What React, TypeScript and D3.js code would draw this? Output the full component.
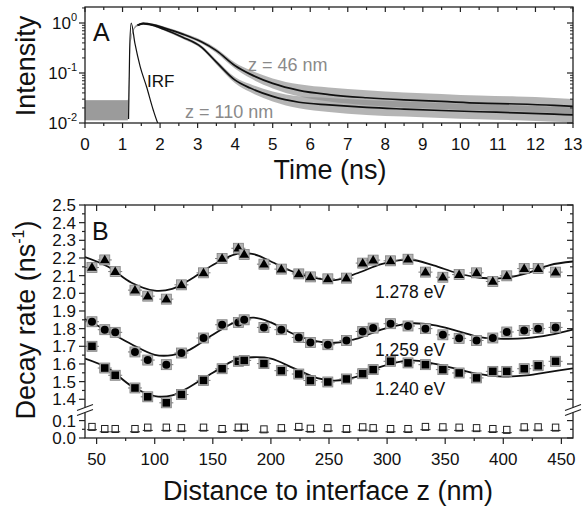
import * as d3 from "d3";
import React, { useEffect, useRef } from "react";

const W = 583;
const H = 507;
const FONT = "'Liberation Sans', Arial, Helvetica, sans-serif";

// ---- panel A: decay traces (log intensity vs time) ----
const timeNs = [0, 0.5, 1.0, 1.14, 1.17, 1.22, 1.3, 1.4, 1.55, 1.8, 2.1, 2.6, 3.1, 3.5, 4.0, 4.4, 5.0, 5.7, 6.5, 7.5, 8.5, 9.5, 10.5, 11.5, 12.5, 13];
const countsZ46 = [0.018, 0.018, 0.018, 0.018, 0.06, 0.45, 0.75, 0.9, 0.98, 0.93, 0.8, 0.6, 0.42, 0.28, 0.14, 0.095, 0.062, 0.045, 0.037, 0.032, 0.029, 0.027, 0.025, 0.024, 0.0225, 0.0215];
const countsZ110 = [0.018, 0.018, 0.018, 0.018, 0.06, 0.45, 0.75, 0.9, 0.97, 0.9, 0.75, 0.52, 0.33, 0.165, 0.072, 0.05, 0.034, 0.026, 0.023, 0.0205, 0.019, 0.0178, 0.0168, 0.016, 0.015, 0.0145];
// half width of the noisy gray trace, in decades
const noiseDecades = [0.2, 0.2, 0.2, 0.2, 0.06, 0.03, 0.02, 0.02, 0.02, 0.02, 0.025, 0.03, 0.035, 0.045, 0.06, 0.08, 0.1, 0.12, 0.14, 0.15, 0.15, 0.15, 0.15, 0.15, 0.15, 0.15];
const fitStart = 7; // fits drawn from t = 1.4 ns
const irfTime = [1.16, 1.19, 1.23, 1.33, 1.47, 1.64, 1.82, 1.95, 2.0];
const irfValue = [0.012, 0.3, 1.0, 0.39, 0.134, 0.053, 0.018, 0.0095, 0.008];
const xTicksA = [0, 1, 2, 3, 4, 5, 6, 7, 8, 9, 10, 11, 12, 13];
const yDecadesA = [0.01, 0.1, 1];
const yDecadeLabels = ["-2", "-1", "0"];

// ---- panel B: decay rate vs distance ----
const distanceNm = [46, 57, 66, 83, 94, 110, 123, 142, 158, 172, 177, 194, 209, 224, 234, 249, 265, 279, 288, 303, 318, 333, 348, 362, 377, 391, 403, 418, 430, 445];
const rate1278 = [2.146, 2.189, 2.123, 2.018, 1.984, 1.967, 2.048, 2.116, 2.197, 2.255, 2.22, 2.165, 2.137, 2.11, 2.093, 2.082, 2.086, 2.171, 2.188, 2.184, 2.193, 2.12, 2.091, 2.106, 2.116, 2.067, 2.099, 2.14, 2.14, 2.12];
const rate1259 = [1.839, 1.794, 1.779, 1.668, 1.622, 1.596, 1.662, 1.747, 1.822, 1.835, 1.85, 1.807, 1.794, 1.75, 1.722, 1.709, 1.733, 1.784, 1.803, 1.828, 1.815, 1.8, 1.765, 1.745, 1.733, 1.747, 1.781, 1.79, 1.8, 1.807];
const rate1240 = [1.7, 1.577, 1.536, 1.464, 1.414, 1.38, 1.427, 1.507, 1.573, 1.615, 1.62, 1.602, 1.562, 1.543, 1.506, 1.498, 1.515, 1.545, 1.568, 1.615, 1.606, 1.596, 1.568, 1.549, 1.521, 1.558, 1.558, 1.573, 1.59, 1.615];
const rateBackground = [0.062, 0.05, 0.05, 0.05, 0.058, 0.058, 0.055, 0.058, 0.05, 0.058, 0.058, 0.048, 0.055, 0.062, 0.052, 0.055, 0.05, 0.06, 0.055, 0.05, 0.05, 0.062, 0.06, 0.058, 0.055, 0.05, 0.045, 0.06, 0.06, 0.058];
const fitNm = [40, 60, 80, 100, 115, 130, 150, 170, 185, 200, 220, 240, 255, 275, 295, 320, 340, 360, 380, 400, 420, 440, 460];
const fit1278 = [2.205, 2.15, 2.06, 2.015, 2.025, 2.075, 2.16, 2.222, 2.222, 2.18, 2.12, 2.085, 2.075, 2.115, 2.165, 2.19, 2.158, 2.115, 2.088, 2.086, 2.113, 2.16, 2.18];
const fit1259 = [1.855, 1.785, 1.712, 1.652, 1.65, 1.68, 1.765, 1.84, 1.862, 1.835, 1.768, 1.728, 1.72, 1.745, 1.795, 1.83, 1.82, 1.788, 1.752, 1.742, 1.746, 1.765, 1.795];
const fit1240 = [1.63, 1.575, 1.475, 1.418, 1.422, 1.47, 1.55, 1.625, 1.638, 1.63, 1.575, 1.52, 1.506, 1.53, 1.585, 1.62, 1.602, 1.572, 1.542, 1.528, 1.535, 1.555, 1.575];
const xTicksB = [50, 100, 150, 200, 250, 300, 350, 400, 450];
const yTicksUpper = [1.4, 1.5, 1.6, 1.7, 1.8, 1.9, 2.0, 2.1, 2.2, 2.3, 2.4, 2.5];
const yTicksLower = [0.0, 0.1];

export default function App() {
  const svgRef = useRef(null);

  useEffect(() => {
    const svg = d3.select(svgRef.current);
    svg.selectAll("*").remove();
    svg.attr("font-family", FONT);

    const boxA = { left: 85, right: 573, top: 7, bottom: 123 };
    const boxB = { left: 85, right: 573, top: 205, bottom: 438 };

    // ================= PANEL A =================
    const xA = d3.scaleLinear().domain([0, 13]).range([boxA.left, boxA.right]);
    const yA = d3.scaleLog().domain([0.01, 2.09]).range([boxA.bottom, boxA.top]);

    svg.append("clipPath").attr("id", "clipA")
      .append("rect")
      .attr("x", boxA.left).attr("y", boxA.top)
      .attr("width", boxA.right - boxA.left).attr("height", boxA.bottom - boxA.top);

    const gA = svg.append("g").attr("clip-path", "url(#clipA)");

    const band = (vals) =>
      d3.area()
        .x((d, i) => xA(timeNs[i]))
        .y0((d, i) => yA(vals[i] / Math.pow(10, noiseDecades[i])))
        .y1((d, i) => yA(vals[i] * Math.pow(10, noiseDecades[i])))
        .curve(d3.curveMonotoneX)(timeNs);

    [countsZ46, countsZ110].forEach((vals) => {
      gA.append("path")
        .attr("d", band(vals))
        .attr("fill", "#8e8e8e")
        .attr("fill-opacity", 0.65);
    });

    const fitLine = d3.line()
      .x((d) => xA(d[0]))
      .y((d) => yA(d[1]))
      .curve(d3.curveMonotoneX);

    [countsZ46, countsZ110].forEach((vals) => {
      const pts = timeNs.map((t, i) => [t, vals[i]]).slice(fitStart);
      gA.append("path")
        .attr("d", fitLine(pts))
        .attr("fill", "none")
        .attr("stroke", "#111")
        .attr("stroke-width", 1.7);
    });

    gA.append("path")
      .attr("d", fitLine(irfTime.map((t, i) => [t, irfValue[i]])))
      .attr("fill", "none")
      .attr("stroke", "#111")
      .attr("stroke-width", 1.2);

    // frame A
    svg.append("rect")
      .attr("x", boxA.left).attr("y", boxA.top)
      .attr("width", boxA.right - boxA.left).attr("height", boxA.bottom - boxA.top)
      .attr("fill", "none").attr("stroke", "#222").attr("stroke-width", 1.3);

    // x ticks A (bottom outward, top inward)
    const halfTicksA = d3.range(0, 13.01, 0.5);
    halfTicksA.forEach((t) => {
      const major = Number.isInteger(t);
      const len = major ? 5 : 3;
      svg.append("line")
        .attr("x1", xA(t)).attr("x2", xA(t))
        .attr("y1", boxA.bottom).attr("y2", boxA.bottom + len)
        .attr("stroke", "#222").attr("stroke-width", 1.2);
      svg.append("line")
        .attr("x1", xA(t)).attr("x2", xA(t))
        .attr("y1", boxA.top).attr("y2", boxA.top + len)
        .attr("stroke", "#222").attr("stroke-width", 1.2);
    });
    svg.append("g").selectAll("text")
      .data(xTicksA)
      .join("text")
      .attr("x", (d) => xA(d))
      .attr("y", 150)
      .attr("text-anchor", "middle")
      .attr("font-size", 17)
      .attr("fill", "#111")
      .text((d) => d);

    // y ticks A
    yDecadesA.forEach((dec) => {
      svg.append("line")
        .attr("x1", boxA.left - 6).attr("x2", boxA.left)
        .attr("y1", yA(dec)).attr("y2", yA(dec))
        .attr("stroke", "#222").attr("stroke-width", 1.2);
      svg.append("line")
        .attr("x1", boxA.right - 6).attr("x2", boxA.right)
        .attr("y1", yA(dec)).attr("y2", yA(dec))
        .attr("stroke", "#222").attr("stroke-width", 1.2);
      for (let m = 2; m <= 9; m++) {
        const v = dec * m;
        if (v > 2.09) continue;
        svg.append("line")
          .attr("x1", boxA.left - 3).attr("x2", boxA.left)
          .attr("y1", yA(v)).attr("y2", yA(v))
          .attr("stroke", "#222").attr("stroke-width", 1);
        svg.append("line")
          .attr("x1", boxA.right - 3).attr("x2", boxA.right)
          .attr("y1", yA(v)).attr("y2", yA(v))
          .attr("stroke", "#222").attr("stroke-width", 1);
      }
    });
    yDecadesA.forEach((dec, i) => {
      const t = svg.append("text")
        .attr("x", 77)
        .attr("y", yA(dec) + 6)
        .attr("text-anchor", "end")
        .attr("font-size", 17)
        .attr("fill", "#111");
      t.append("tspan").text("10");
      t.append("tspan").attr("dy", -8).attr("font-size", 11).text(yDecadeLabels[i]);
    });

    // titles A
    svg.append("text")
      .attr("x", 330).attr("y", 179)
      .attr("text-anchor", "middle")
      .attr("font-size", 27)
      .attr("fill", "#111")
      .text("Time (ns)");
    svg.append("text")
      .attr("transform", "translate(35,66) rotate(-90)")
      .attr("text-anchor", "middle")
      .attr("font-size", 27)
      .attr("fill", "#111")
      .text("Intensity");
    svg.append("text")
      .attr("x", 93).attr("y", 41)
      .attr("font-size", 25)
      .attr("fill", "#111")
      .text("A");
    svg.append("text")
      .attr("x", 147).attr("y", 87)
      .attr("font-size", 17)
      .attr("fill", "#111")
      .text("IRF");
    svg.append("text")
      .attr("x", 248).attr("y", 71)
      .attr("font-size", 18)
      .attr("fill", "#8a8a8a")
      .text("z = 46 nm");
    svg.append("text")
      .attr("x", 185).attr("y", 118)
      .attr("font-size", 18)
      .attr("fill", "#8a8a8a")
      .text("z = 110 nm");

    // ================= PANEL B =================
    const xB = d3.scaleLinear().domain([40, 460]).range([boxB.left, boxB.right]);
    const breakY = 410;
    const yUp = d3.scaleLinear().domain([2.5, 1.345]).range([boxB.top, breakY - 1]);
    const yLo = d3.scaleLinear().domain([0, 0.155]).range([boxB.bottom, breakY + 1]);

    svg.append("clipPath").attr("id", "clipB")
      .append("rect")
      .attr("x", boxB.left).attr("y", boxB.top)
      .attr("width", boxB.right - boxB.left).attr("height", breakY - boxB.top);

    const gB = svg.append("g");
    const lineB = d3.line()
      .x((d, i) => xB(fitNm[i]))
      .y((d) => yUp(d))
      .curve(d3.curveCatmullRom.alpha(0.5));
    [fit1278, fit1259, fit1240].forEach((fit) => {
      gB.append("path")
        .attr("clip-path", "url(#clipB)")
        .attr("d", lineB(fit))
        .attr("fill", "none")
        .attr("stroke", "#111")
        .attr("stroke-width", 1.8);
    });

    // gray error box behind each filled marker
    const drawBack = (g, x, y) => {
      g.append("line")
        .attr("x1", x - 7).attr("x2", x + 7).attr("y1", y).attr("y2", y)
        .attr("stroke", "#777").attr("stroke-width", 1);
      g.append("rect")
        .attr("x", x - 5).attr("y", y - 5)
        .attr("width", 10).attr("height", 10)
        .attr("fill", "#b3b3b3").attr("stroke", "#808080").attr("stroke-width", 0.8);
    };

    const triangle = d3.symbol().type(d3.symbolTriangle).size(42);
    distanceNm.forEach((nm, i) => {
      const x = xB(nm);
      // 1.278 eV triangles
      let y = yUp(rate1278[i]);
      drawBack(gB, x, y);
      gB.append("path").attr("d", triangle()).attr("transform", `translate(${x},${y + 0.5})`).attr("fill", "#000");
      // 1.259 eV circles
      y = yUp(rate1259[i]);
      drawBack(gB, x, y);
      gB.append("circle").attr("cx", x).attr("cy", y).attr("r", 4).attr("fill", "#000");
      // 1.240 eV squares
      y = yUp(rate1240[i]);
      drawBack(gB, x, y);
      gB.append("rect").attr("x", x - 3.8).attr("y", y - 3.8).attr("width", 7.6).attr("height", 7.6).attr("fill", "#000");
      // background rate, open squares
      y = yLo(rateBackground[i]);
      gB.append("line")
        .attr("x1", x - 5).attr("x2", x + 5).attr("y1", y + 2.5).attr("y2", y + 2.5)
        .attr("stroke", "#222").attr("stroke-width", 1);
      gB.append("rect")
        .attr("x", x - 3.2).attr("y", y - 3.8)
        .attr("width", 6.4).attr("height", 7)
        .attr("fill", "none").attr("stroke", "#222").attr("stroke-width", 1);
    });

    // frame B
    svg.append("rect")
      .attr("x", boxB.left).attr("y", boxB.top)
      .attr("width", boxB.right - boxB.left).attr("height", boxB.bottom - boxB.top)
      .attr("fill", "none").attr("stroke", "#222").attr("stroke-width", 1.3);

    // x ticks B
    d3.range(50, 451, 25).forEach((nm) => {
      const major = nm % 50 === 0;
      const len = major ? 6 : 3;
      svg.append("line")
        .attr("x1", xB(nm)).attr("x2", xB(nm))
        .attr("y1", boxB.bottom).attr("y2", boxB.bottom + len)
        .attr("stroke", "#222").attr("stroke-width", 1.2);
      svg.append("line")
        .attr("x1", xB(nm)).attr("x2", xB(nm))
        .attr("y1", boxB.top).attr("y2", boxB.top + len)
        .attr("stroke", "#222").attr("stroke-width", 1.2);
    });
    svg.append("g").selectAll("text")
      .data(xTicksB)
      .join("text")
      .attr("x", (d) => xB(d))
      .attr("y", 465)
      .attr("text-anchor", "middle")
      .attr("font-size", 17)
      .attr("fill", "#111")
      .text((d) => d);

    // y ticks B (upper and lower segments)
    const yTick = (y, major) => {
      const len = major ? 6 : 3;
      svg.append("line")
        .attr("x1", boxB.left - len).attr("x2", boxB.left)
        .attr("y1", y).attr("y2", y)
        .attr("stroke", "#222").attr("stroke-width", 1.2);
      svg.append("line")
        .attr("x1", boxB.right - len).attr("x2", boxB.right)
        .attr("y1", y).attr("y2", y)
        .attr("stroke", "#222").attr("stroke-width", 1.2);
    };
    yTicksUpper.forEach((v) => {
      yTick(yUp(v), true);
      if (v > 1.4) yTick(yUp(v - 0.05), false);
    });
    yTicksLower.forEach((v) => yTick(yLo(v), true));
    yTick(yLo(0.05), false);

    const fmt = d3.format(".1f");
    svg.append("g").selectAll("text")
      .data(yTicksUpper.map((v) => [v, yUp(v)]).concat(yTicksLower.map((v) => [v, yLo(v)])))
      .join("text")
      .attr("x", 76)
      .attr("y", (d) => d[1] + 6)
      .attr("text-anchor", "end")
      .attr("font-size", 17)
      .attr("fill", "#111")
      .text((d) => fmt(d[0]));

    // axis breaks
    [boxB.left, boxB.right].forEach((x) => {
      svg.append("rect")
        .attr("x", x - 2).attr("y", breakY - 2.5)
        .attr("width", 4).attr("height", 5)
        .attr("fill", "#fff");
      [-2.5, 2.5].forEach((off) => {
        svg.append("line")
          .attr("x1", x - 8).attr("x2", x + 8)
          .attr("y1", breakY + off + 3).attr("y2", breakY + off - 3)
          .attr("stroke", "#222").attr("stroke-width", 1.2);
      });
    });

    // labels B
    svg.append("text")
      .attr("x", 92).attr("y", 240)
      .attr("font-size", 25)
      .attr("fill", "#111")
      .text("B");
    [["1.278 eV", 298], ["1.259 eV", 356], ["1.240 eV", 395]].forEach(([s, y]) => {
      svg.append("text")
        .attr("x", 375).attr("y", y)
        .attr("font-size", 17.5)
        .attr("fill", "#111")
        .text(s);
    });
    svg.append("text")
      .attr("x", 328).attr("y", 500)
      .attr("text-anchor", "middle")
      .attr("font-size", 27)
      .attr("fill", "#111")
      .text("Distance to interface z (nm)");
    const yl = svg.append("text")
      .attr("transform", "translate(35,320) rotate(-90)")
      .attr("text-anchor", "middle")
      .attr("font-size", 27)
      .attr("fill", "#111");
    yl.append("tspan").text("Decay rate (ns");
    yl.append("tspan").attr("dy", -11).attr("font-size", 16).text("-1");
    yl.append("tspan").attr("dy", 11).text(")");
  });

  return (
    <svg
      ref={svgRef}
      width={W}
      height={H}
      style={{ position: "absolute", left: 0, top: 0, background: "#fff" }}
    ></svg>
  );
}
